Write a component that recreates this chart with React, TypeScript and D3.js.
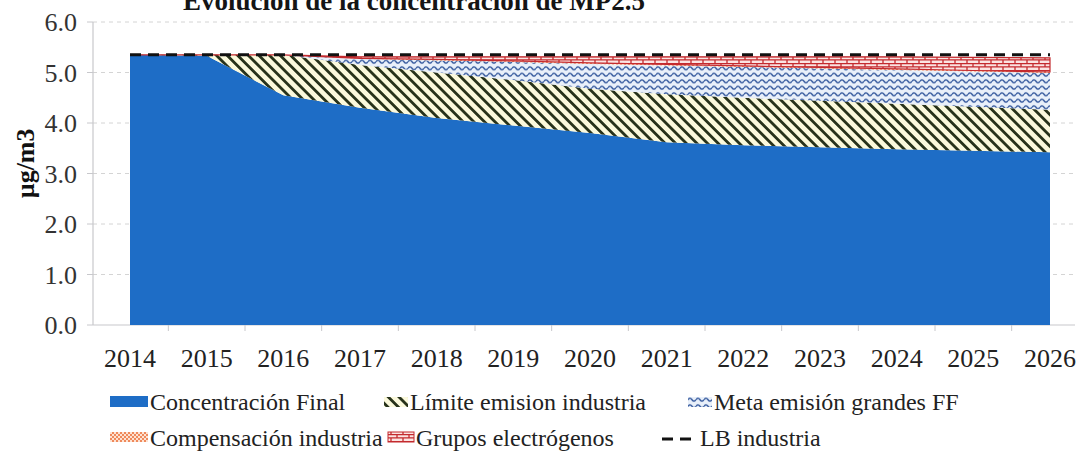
import React from "react";
import * as d3 from "d3";

// values (µg/m3)
const years = ["2014", "2015", "2016", "2017", "2018", "2019", "2020", "2021", "2022", "2023", "2024", "2025", "2026"];
const concentracionFinal = [5.35, 5.33, 4.55, 4.3, 4.1, 3.95, 3.8, 3.62, 3.56, 3.52, 3.48, 3.45, 3.42];
const limiteEmision = [0, 0.02, 0.8, 0.85, 0.9, 0.9, 0.88, 0.95, 0.94, 0.92, 0.9, 0.87, 0.84];
const metaEmision = [0, 0, 0, 0.12, 0.24, 0.36, 0.49, 0.57, 0.61, 0.64, 0.67, 0.7, 0.73];
const compensacion = [0, 0, 0, 0.01, 0.02, 0.02, 0.02, 0.02, 0.02, 0.02, 0.02, 0.02, 0.02];
const gruposElectrogenos = [0, 0, 0, 0.03, 0.05, 0.08, 0.12, 0.15, 0.18, 0.21, 0.24, 0.26, 0.28];
const lbIndustria = [5.35, 5.35, 5.35, 5.35, 5.35, 5.35, 5.35, 5.35, 5.35, 5.35, 5.35, 5.35, 5.35];
const yTicks = [0, 1, 2, 3, 4, 5, 6];

const keys = ["final", "limite", "meta", "comp", "grupos"];
const fills: Record<string, string> = {
  final: "#1e6dc6",
  limite: "url(#hatch)",
  meta: "url(#wave)",
  comp: "url(#checker)",
  grupos: "url(#brick)",
};

const serif = '"Liberation Serif", "Times New Roman", "DejaVu Serif", serif';
const txt = { fontFamily: serif };
const width = 1080;
const height = 468;

const App: React.FC = () => {
  const x = d3.scalePoint<string>().domain(years).range([130, 1050]);
  const y = d3.scaleLinear().domain([0, 6]).range([325, 22]);

  const rows = years.map((year, i) => ({
    year,
    final: concentracionFinal[i],
    limite: limiteEmision[i],
    meta: metaEmision[i],
    comp: compensacion[i],
    grupos: gruposElectrogenos[i],
  }));
  const series = d3.stack<any>().keys(keys)(rows);

  const area = d3
    .area<any>()
    .x(d => x(d.data.year) as number)
    .y0(d => y(d[0]))
    .y1(d => y(d[1]));

  const lbLine = d3
    .line<number>()
    .x((d, i) => x(years[i]) as number)
    .y(d => y(d));

  const mids = years.slice(1).map((yr, i) => ((x(years[i]) as number) + (x(yr) as number)) / 2);

  return (
    <svg
      width={width}
      height={height}
      style={{ position: "absolute", left: 0, top: 0, background: "#fff" }}
    >
      <defs>
        <pattern id="hatch" patternUnits="userSpaceOnUse" width="7.5" height="7.5" patternTransform="rotate(-45)">
          <rect width="7.5" height="7.5" fill="#fbf9dc" />
          <rect x="0" width="2.8" height="7.5" fill="#27321a" />
        </pattern>
        <pattern id="wave" patternUnits="userSpaceOnUse" width="8" height="6.5">
          <rect width="8" height="6.5" fill="#e9f0fa" />
          <path d="M0,3.2 Q2,0.4 4,3.2 T8,3.2" fill="none" stroke="#33579c" strokeWidth="1.5" />
        </pattern>
        <pattern id="checker" patternUnits="userSpaceOnUse" width="4" height="4">
          <rect width="4" height="4" fill="#fde3d3" />
          <rect width="2" height="2" fill="#ef8a5c" />
          <rect x="2" y="2" width="2" height="2" fill="#ef8a5c" />
        </pattern>
        <pattern id="brick" patternUnits="userSpaceOnUse" width="12" height="7">
          <rect width="12" height="7" fill="#fbe4e2" />
          <path d="M0,0.6H12M0,3.8H12M1,0.6V3.8M7,3.8V7" fill="none" stroke="#c42a2e" strokeWidth="1.3" />
        </pattern>
      </defs>

      {/* title, cut by the top of the scan */}
      <text x={645} y={10} textAnchor="end" fontSize={27} fontWeight="bold" fill="#151515" style={txt}>
        Evolución de la concentración de MP2.5
      </text>

      {/* gridlines */}
      {yTicks.slice(1).map(t => (
        <line key={t} x1={93} x2={1075} y1={y(t)} y2={y(t)} stroke="#d4d4d4" strokeWidth={1} strokeDasharray="4,4" />
      ))}

      {/* axes */}
      <line x1={93} x2={93} y1={y(6)} y2={y(0)} stroke="#c8c8cc" strokeWidth={1.2} />
      <line x1={93} x2={1075} y1={y(0)} y2={y(0)} stroke="#c8c8cc" strokeWidth={1.2} />
      {yTicks.map(t => (
        <line key={t} x1={87} x2={93} y1={y(t)} y2={y(t)} stroke="#c8c8cc" strokeWidth={1} />
      ))}
      {mids.map((m, i) => (
        <line key={i} x1={m} x2={m} y1={y(0)} y2={y(0) + 6} stroke="#c8c8cc" strokeWidth={1} />
      ))}

      {/* stacked areas */}
      {series.map(s => (
        <path
          key={s.key}
          d={area(s) as string}
          fill={fills[s.key]}
          stroke={s.key === "grupos" ? "#c42a2e" : "none"}
          strokeWidth={s.key === "grupos" ? 1.2 : 0}
        />
      ))}

      {/* LB industria */}
      <path d={lbLine(lbIndustria) as string} fill="none" stroke="#111" strokeWidth={3} strokeDasharray="11,7" />

      {/* y labels */}
      {yTicks.map(t => (
        <text key={t} x={77} y={y(t)} dy="0.35em" textAnchor="end" fontSize={26} fill="#333" style={txt}>
          {t.toFixed(1)}
        </text>
      ))}
      <text
        transform={`translate(34, ${y(3.2)}) rotate(-90)`}
        textAnchor="middle"
        fontSize={26}
        fontWeight="bold"
        fill="#111"
        style={txt}
      >
        µg/m3
      </text>

      {/* x labels */}
      {years.map(yr => (
        <text key={yr} x={x(yr)} y={367} textAnchor="middle" fontSize={26} fill="#222" style={txt}>
          {yr}
        </text>
      ))}

      {/* legend */}
      <g fontSize={24} fill="#222" style={txt}>
        <rect x={110} y={396} width={38} height={11} fill={fills.final} />
        <text x={150} y={410} style={txt}>Concentración Final</text>
        <rect x={384} y={397} width={24} height={10} fill={fills.limite} />
        <text x={410} y={410} style={txt}>Límite emision industria</text>
        <rect x={688} y={397} width={24} height={10} fill={fills.meta} />
        <text x={714} y={410} style={txt}>Meta emisión grandes FF</text>

        <rect x={110} y={432} width={38} height={10} fill={fills.comp} />
        <text x={150} y={446} style={txt}>Compensación industria</text>
        <rect x={388} y={432} width={26} height={10} fill={fills.grupos} stroke="#c42a2e" strokeWidth={1} />
        <text x={416} y={446} style={txt}>Grupos electrógenos</text>
        <line x1={662} x2={694} y1={439} y2={439} stroke="#111" strokeWidth={3} strokeDasharray="11,7" />
        <text x={700} y={446} style={txt}>LB industria</text>
      </g>
    </svg>
  );
};

export default App;
